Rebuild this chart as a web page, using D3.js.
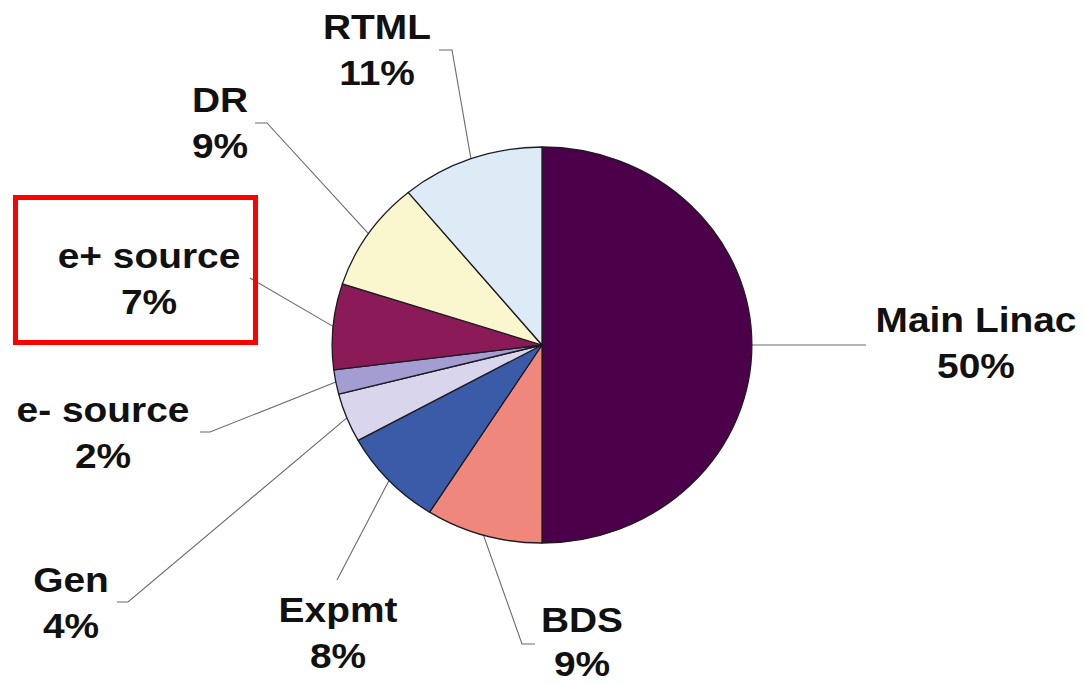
<!DOCTYPE html>
<html>
<head>
<meta charset="utf-8">
<script src="https://cdn.jsdelivr.net/npm/d3@7"></script>
<style>
  html, body { margin: 0; padding: 0; background: #fff; }
  svg { display: block; }
</style>
</head>
<body>
<svg id="chart" width="1084" height="684"></svg>
<script>
// ---- data ----
const categories = ["Main Linac", "BDS", "Expmt", "Gen", "e- source", "e+ source", "DR", "RTML"];
const shares = [50, 9, 8, 4, 2, 7, 9, 11];
const percentLabels = ["50%", "9%", "8%", "4%", "2%", "7%", "9%", "11%"];
const highlighted = ["e+ source"];

// ---- styling / layout (not data) ----
const colors = ["#4b0049", "#f0877d", "#3a5ba8", "#d9d5ec", "#a39dd1", "#8b1b58", "#faf7cf", "#dcebf6"];
// label centre x, first baseline y, line gap, and leader-line points (elbow then end)
const labelLayout = [
  { x: 976, y: 332, gap: 46, leader: [[866, 345]] },
  { x: 582, y: 632, gap: 44, leader: [[522, 644], [535, 644]] },
  { x: 338, y: 622, gap: 46, leader: [[337, 580]] },
  { x: 71,  y: 592, gap: 46, leader: [[128, 602], [117, 602]] },
  { x: 103, y: 422, gap: 46, leader: [[210, 432], [200, 432]] },
  { x: 149, y: 268, gap: 46, leader: [[250, 278]] },
  { x: 220, y: 112, gap: 46, leader: [[267, 123], [255, 123]] },
  { x: 377, y: 39,  gap: 46, leader: [[452, 50], [439, 50]] }
];

const svg = d3.select("#chart");
svg.append("rect").attr("width", 1084).attr("height", 684).attr("fill", "#fff");

const cx = 542, cy = 345, r = 198, sx = 1.06;

const pie = d3.pie().sort(null).value(d => d.value);
const arcs = pie(categories.map((c, i) => ({ name: c, value: shares[i], i })));
const arc = d3.arc().innerRadius(0).outerRadius(r);

// leader lines
const lineGen = d3.line();
svg.append("g").selectAll("path.leader")
  .data(arcs)
  .join("path")
  .attr("class", "leader")
  .attr("fill", "none")
  .attr("stroke", "#6a6a6a")
  .attr("stroke-width", 1.1)
  .attr("d", d => {
    const mid = (d.startAngle + d.endAngle) / 2;
    const p0 = [cx + sx * r * Math.sin(mid), cy - r * Math.cos(mid)];
    return lineGen([p0, ...labelLayout[d.data.i].leader]);
  });

// pie
const g = svg.append("g").attr("transform", `translate(${cx},${cy}) scale(${sx},1)`);
g.selectAll("path.slice")
  .data(arcs)
  .join("path")
  .attr("class", "slice")
  .attr("d", arc)
  .attr("fill", d => colors[d.data.i])
  .attr("stroke", "#1e1a22")
  .attr("stroke-width", 1.3)
  .attr("stroke-linejoin", "round")
  .attr("vector-effect", "non-scaling-stroke");

// labels
const lab = svg.append("g")
  .attr("font-family", "'Liberation Sans', Arial, Helvetica, sans-serif")
  .attr("font-weight", "bold")
  .attr("font-size", 36)
  .attr("fill", "#111");
arcs.forEach(d => {
  const L = labelLayout[d.data.i];
  const t = lab.append("g").attr("transform", `translate(${L.x},${L.y}) scale(1.08,1)`);
  t.append("text").attr("text-anchor", "middle").attr("x", 0).attr("y", 0).text(d.data.name);
  t.append("text").attr("text-anchor", "middle").attr("x", 0).attr("y", L.gap).text(percentLabels[d.data.i]);
});

// highlight box around the e+ source label
highlighted.forEach(name => {
  const i = categories.indexOf(name);
  const L = labelLayout[i];
  svg.append("rect")
    .attr("x", L.x - 133.5).attr("y", L.y - 70.5)
    .attr("width", 240).attr("height", 145)
    .attr("fill", "none")
    .attr("stroke", "#ff0000")
    .attr("stroke-width", 5);
});
</script>
</body>
</html>
